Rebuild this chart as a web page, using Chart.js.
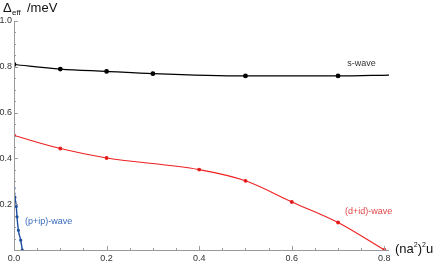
<!DOCTYPE html>
<html><head><meta charset="utf-8">
<script src="https://cdn.jsdelivr.net/npm/chart.js@4/dist/chart.umd.min.js"></script>
<style>html,body{margin:0;padding:0;background:#fff}#wrap{width:436px;height:264px;position:relative}</style>
</head><body><div id="wrap"><canvas id="c" width="436" height="264"></canvas></div>
<script>
const sX = [0, 0.1, 0.2, 0.3, 0.5, 0.7, 0.81];
const sY = [0.81, 0.79, 0.78, 0.77, 0.76, 0.76, 0.764];
const sMark = [true, true, true, true, true, true, false];
const dX = [0, 0.1, 0.2, 0.4, 0.5, 0.6, 0.7, 0.8];
const dY = [0.50, 0.443, 0.402, 0.351, 0.302, 0.21, 0.12, 0.0];
const pX = [0, 0.002, 0.005, 0.0065, 0.0095, 0.0145, 0.018];
const pY = [0.27, 0.23, 0.19, 0.145, 0.086, 0.043, 0.0];
const xTickLabels = [0, 0.2, 0.4, 0.6, 0.8];
const yTickLabels = [0.2, 0.4, 0.6, 0.8, 1.0];
const curveLabels = [
  {text: 's-wave', x: 0.72, y: 0.815, color: '#333333'},
  {text: '(d+id)-wave', x: 0.715, y: 0.167, color: '#e04848'},
  {text: '(p+ip)-wave', x: 0.024, y: 0.125, color: '#3a6bbd'}
];

const pts = (xs, ys) => xs.map((x, i) => ({x, y: ys[i]}));
const FF = '"Liberation Sans", Arial, sans-serif';

const axisPlugin = {
  id: 'axisPlugin',
  afterDraw(chart) {
    const ctx = chart.ctx, xs = chart.scales.x, ys = chart.scales.y;
    const x0 = xs.getPixelForValue(0), y0 = ys.getPixelForValue(0);
    ctx.save();
    ctx.strokeStyle = '#9a9a9a';
    ctx.lineWidth = 1;
    ctx.beginPath();
    ctx.moveTo(Math.round(x0) + 0.5, ys.getPixelForValue(1.0));
    ctx.lineTo(Math.round(x0) + 0.5, y0);
    ctx.moveTo(x0, Math.round(y0) + 0.5);
    ctx.lineTo(xs.getPixelForValue(0.81), Math.round(y0) + 0.5);
    for (let i = 1; i <= 16; i++) {
      const v = i * 0.05, px = Math.round(xs.getPixelForValue(v)) + 0.5;
      const len = (i % 4 === 0) ? 4 : 2;
      ctx.moveTo(px, y0); ctx.lineTo(px, y0 - len);
    }
    for (let i = 1; i <= 20; i++) {
      const v = i * 0.05, py = Math.round(ys.getPixelForValue(v)) + 0.5;
      const len = (i % 4 === 0) ? 4 : 2;
      ctx.moveTo(x0, py); ctx.lineTo(x0 + len, py);
    }
    ctx.stroke();
    ctx.textBaseline = 'middle';
    ctx.textAlign = 'left';
    ctx.font = '9px ' + FF;
    curveLabels.forEach(l => {
      ctx.fillStyle = l.color;
      ctx.fillText(l.text, xs.getPixelForValue(l.x), ys.getPixelForValue(l.y));
    });
    ctx.fillStyle = '#111';
    ctx.textBaseline = 'alphabetic';
    ctx.font = '13px ' + FF;
    ctx.fillText('\u0394', 3, 12);
    ctx.font = '8px ' + FF;
    ctx.fillText('eff', 12, 15);
    ctx.font = '13px ' + FF;
    ctx.fillText('/meV', 27, 12);
    const tx = 395, ty = 253;
    let w = 0;
    const part = (t, size, dy) => {
      ctx.font = size + 'px ' + FF;
      ctx.fillText(t, tx + w, ty + dy);
      w += ctx.measureText(t).width;
    };
    part('(na', 13, 0); part('2', 7, -6); part(')', 13, 0); part('2', 7, -6); part('u', 13, 0);
    ctx.restore();
  }
};

new Chart(document.getElementById('c'), {
  type: 'scatter',
  data: {
    datasets: [
      {data: pts(sX, sY), showLine: true, borderColor: '#000', backgroundColor: '#000', borderWidth: 1.2,
       pointRadius: sMark.map(m => m ? 1.8 : 0), cubicInterpolationMode: 'monotone'},
      {data: pts(dX, dY), showLine: true, borderColor: '#ee2020', backgroundColor: '#d01010', borderWidth: 1.1,
       pointRadius: 1.4, cubicInterpolationMode: 'monotone'},
      {data: pts(pX, pY), showLine: true, borderColor: '#1d4fa0', backgroundColor: '#1d4fa0', borderWidth: 1.4,
       pointRadius: 0.9, cubicInterpolationMode: 'monotone'}
    ]
  },
  options: {
    responsive: false, animation: false, events: [],
    layout: {padding: {left: 0, right: 47, top: 21, bottom: 0}},
    plugins: {legend: {display: false}, tooltip: {enabled: false}},
    scales: {
      x: {type: 'linear', min: 0, max: 0.81, border: {display: false},
          grid: {display: false, drawTicks: false, tickLength: 0},
          afterBuildTicks: s => { s.ticks = xTickLabels.map(v => ({value: v})); },
          afterFit: s => { s.height = 14; },
          ticks: {autoSkip: false, maxRotation: 0, padding: 3, color: '#333',
                  font: {size: 9, family: FF},
                  callback: v => Number(v).toFixed(1)}},
      y: {type: 'linear', min: 0, max: 1.0, border: {display: false},
          grid: {display: false, drawTicks: false, tickLength: 0},
          afterBuildTicks: s => { s.ticks = yTickLabels.map(v => ({value: v})); },
          afterFit: s => { s.width = 14; },
          ticks: {autoSkip: false, padding: 2, color: '#333',
                  font: {size: 9, family: FF},
                  callback: v => Number(v).toFixed(1)}}
    }
  },
  plugins: [axisPlugin]
});
</script></body></html>
